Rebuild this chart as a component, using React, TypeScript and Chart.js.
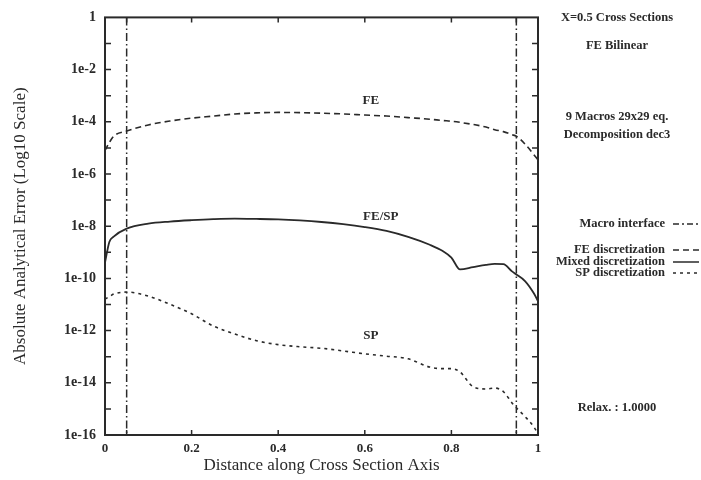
import React, { useEffect, useRef } from "react";
import { Chart, registerables } from "chart.js";

Chart.register(...registerables);

// ---- data ----
const xPositions = [0, 0.01, 0.02, 0.05, 0.1, 0.15, 0.2, 0.25, 0.3, 0.35, 0.4, 0.45, 0.5, 0.55, 0.6, 0.65, 0.7, 0.75, 0.78, 0.8, 0.82, 0.85, 0.88, 0.9, 0.92, 0.94, 0.95, 0.97, 0.99, 1];

const feError = [7.9e-6, 1.6e-5, 2.8e-5, 4.4e-5, 7.6e-5, 1.07e-4, 1.38e-4, 1.66e-4, 2.0e-4, 2.19e-4, 2.29e-4, 2.24e-4, 2.14e-4, 2.0e-4, 1.82e-4, 1.66e-4, 1.45e-4, 1.26e-4, 1.12e-4, 1.05e-4, 9.5e-5, 7.9e-5, 6.3e-5, 5.0e-5, 4.2e-5, 3.2e-5, 2.8e-5, 1.4e-5, 5.6e-6, 3.5e-6];

const mixedError = [4.0e-10, 2.5e-9, 4.0e-9, 8.1e-9, 1.26e-8, 1.51e-8, 1.7e-8, 1.86e-8, 1.95e-8, 1.9e-8, 1.82e-8, 1.66e-8, 1.45e-8, 1.2e-8, 9.3e-9, 6.6e-9, 3.9e-9, 1.95e-9, 1.12e-9, 6.3e-10, 2.2e-10, 2.7e-10, 3.3e-10, 3.6e-10, 3.5e-10, 1.86e-10, 1.41e-10, 7.9e-11, 2.75e-11, 1.35e-11];

const spError = [1.6e-11, 2.0e-11, 2.5e-11, 3.0e-11, 2.1e-11, 1.02e-11, 4.4e-12, 1.5e-12, 7.4e-13, 4.1e-13, 2.9e-13, 2.4e-13, 2.1e-13, 1.66e-13, 1.29e-13, 1.05e-13, 8.3e-14, 4.0e-14, 3.5e-14, 3.5e-14, 2.6e-14, 7.1e-15, 5.8e-15, 6.3e-15, 4.6e-15, 1.7e-15, 1.1e-15, 5.1e-16, 2.1e-16, 1.1e-16];

const macroInterfaces = [0.05, 0.95];

const xTickValues = [0, 0.2, 0.4, 0.6, 0.8, 1];
const xTickLabels = ["0", "0.2", "0.4", "0.6", "0.8", "1"];
const yTickValues = [1, 1e-2, 1e-4, 1e-6, 1e-8, 1e-10, 1e-12, 1e-14, 1e-16];
const yTickLabels = ["1", "1e-2", "1e-4", "1e-6", "1e-8", "1e-10", "1e-12", "1e-14", "1e-16"];
const yMinorTicks = [1e-1, 1e-2, 1e-3, 1e-4, 1e-5, 1e-6, 1e-7, 1e-8, 1e-9, 1e-10, 1e-11, 1e-12, 1e-13, 1e-14, 1e-15];

const curveLabels = [
  { text: "FE", x: 0.614, y: 6.6e-4 },
  { text: "FE/SP", x: 0.637, y: 2.4e-8 },
  { text: "SP", x: 0.614, y: 6.3e-13 },
];

const sideTexts = [
  { text: "X=0.5 Cross Sections", y: 18 },
  { text: "FE Bilinear", y: 46 },
  { text: "9 Macros 29x29 eq.", y: 117 },
  { text: "Decomposition dec3", y: 135 },
  { text: "Relax. : 1.0000", y: 408 },
];

const legendItems = [
  { text: "Macro interface", y: 224, dash: [6, 3, 2, 3] },
  { text: "FE discretization", y: 250, dash: [6, 4] },
  { text: "Mixed discretization", y: 262, dash: [] as number[] },
  { text: "SP discretization", y: 273, dash: [3, 4] },
];

const INK = "#2a2a2a";
const SERIF = "'Liberation Serif', 'DejaVu Serif', serif";

const decorPlugin = {
  id: "decor",
  afterDraw(chart: any) {
    const { ctx, chartArea: a, scales } = chart;
    const xs = scales.x;
    const ys = scales.y;
    ctx.save();
    ctx.strokeStyle = INK;
    ctx.setLineDash([]);
    // frame
    ctx.lineWidth = 2;
    ctx.strokeRect(a.left, a.top, a.right - a.left, a.bottom - a.top);
    // inward ticks
    ctx.lineWidth = 1.5;
    ctx.beginPath();
    for (const v of yMinorTicks) {
      const py = ys.getPixelForValue(v);
      ctx.moveTo(a.left, py);
      ctx.lineTo(a.left + 6, py);
      ctx.moveTo(a.right, py);
      ctx.lineTo(a.right - 6, py);
    }
    for (const v of xTickValues.slice(1, -1).concat(macroInterfaces)) {
      const px = xs.getPixelForValue(v);
      ctx.moveTo(px, a.bottom);
      ctx.lineTo(px, a.bottom - 5);
      ctx.moveTo(px, a.top);
      ctx.lineTo(px, a.top + 5);
    }
    ctx.stroke();

    // curve labels
    ctx.fillStyle = INK;
    ctx.font = `bold 13px ${SERIF}`;
    ctx.textAlign = "center";
    ctx.textBaseline = "middle";
    for (const l of curveLabels) {
      ctx.fillText(l.text, xs.getPixelForValue(l.x), ys.getPixelForValue(l.y));
    }

    // side texts
    ctx.font = `bold 12.5px ${SERIF}`;
    for (const t of sideTexts) {
      ctx.fillText(t.text, 617, t.y);
    }

    // legend
    ctx.textAlign = "right";
    for (const item of legendItems) {
      ctx.fillText(item.text, 665, item.y);
      ctx.beginPath();
      ctx.setLineDash(item.dash);
      ctx.lineWidth = 1.5;
      ctx.moveTo(673, item.y);
      ctx.lineTo(699, item.y);
      ctx.stroke();
    }
    ctx.restore();
  },
};

export default function App() {
  const canvasRef = useRef<HTMLCanvasElement | null>(null);

  useEffect(() => {
    if (!canvasRef.current) return;
    const pts = (vals: number[]) => xPositions.map((x, i) => ({ x, y: vals[i] }));
    const chart = new Chart(canvasRef.current, {
      type: "line",
      data: {
        datasets: [
          ...macroInterfaces.map((mx) => ({
            label: "Macro interface",
            data: [{ x: mx, y: 1 }, { x: mx, y: 1e-16 }],
            borderColor: INK,
            borderWidth: 1.5,
            borderDash: [8, 3, 1.5, 3],
            pointRadius: 0,
            fill: false,
          })),
          {
            label: "FE discretization",
            data: pts(feError),
            borderColor: INK,
            borderWidth: 1.6,
            borderDash: [6, 4],
            pointRadius: 0,
            cubicInterpolationMode: "monotone" as const,
            fill: false,
          },
          {
            label: "Mixed discretization",
            data: pts(mixedError),
            borderColor: INK,
            borderWidth: 1.8,
            pointRadius: 0,
            cubicInterpolationMode: "monotone" as const,
            fill: false,
          },
          {
            label: "SP discretization",
            data: pts(spError),
            borderColor: INK,
            borderWidth: 1.6,
            borderDash: [3, 4],
            pointRadius: 0,
            cubicInterpolationMode: "monotone" as const,
            fill: false,
          },
        ],
      },
      options: {
        animation: false,
        responsive: true,
        maintainAspectRatio: false,
        layout: { padding: { top: 13, right: 163, left: 0, bottom: 0 } },
        plugins: { legend: { display: false }, tooltip: { enabled: false } },
        scales: {
          x: {
            type: "linear",
            min: 0,
            max: 1,
            afterBuildTicks: (s: any) => {
              s.ticks = xTickValues.map((v) => ({ value: v }));
            },
            afterFit: (s: any) => {
              s.height = 45;
            },
            ticks: {
              padding: 6,
              maxRotation: 0,
              autoSkip: false,
              color: INK,
              font: { family: SERIF, size: 13, weight: "bold" },
              callback: (_v: any, i: number) => xTickLabels[i],
            },
            grid: { display: false, drawTicks: false },
            border: { display: false },
            title: {
              display: true,
              text: "Distance along Cross Section Axis",
              color: INK,
              font: { family: SERIF, size: 17 },
              padding: { top: 0, bottom: 4 },
            },
          },
          y: {
            type: "logarithmic",
            min: 1e-16,
            max: 1,
            afterBuildTicks: (s: any) => {
              s.ticks = yTickValues.map((v) => ({ value: v }));
            },
            afterFit: (s: any) => {
              s.width = 105;
            },
            ticks: {
              padding: 9,
              autoSkip: false,
              color: INK,
              font: { family: SERIF, size: 14, weight: "bold" },
              callback: (_v: any, i: number) => yTickLabels[i],
            },
            grid: { display: false, drawTicks: false },
            border: { display: false },
            title: {
              display: true,
              text: "Absolute Analytical Error (Log10 Scale)",
              color: INK,
              font: { family: SERIF, size: 17 },
              padding: { top: 10, bottom: 0 },
            },
          },
        },
      },
      plugins: [decorPlugin],
    } as any);
    return () => chart.destroy();
  }, []);

  return (
    <div style={{ position: "absolute", left: 0, top: 0, width: 701, height: 480, background: "#fff" }}>
      <canvas ref={canvasRef} />
    </div>
  );
}
